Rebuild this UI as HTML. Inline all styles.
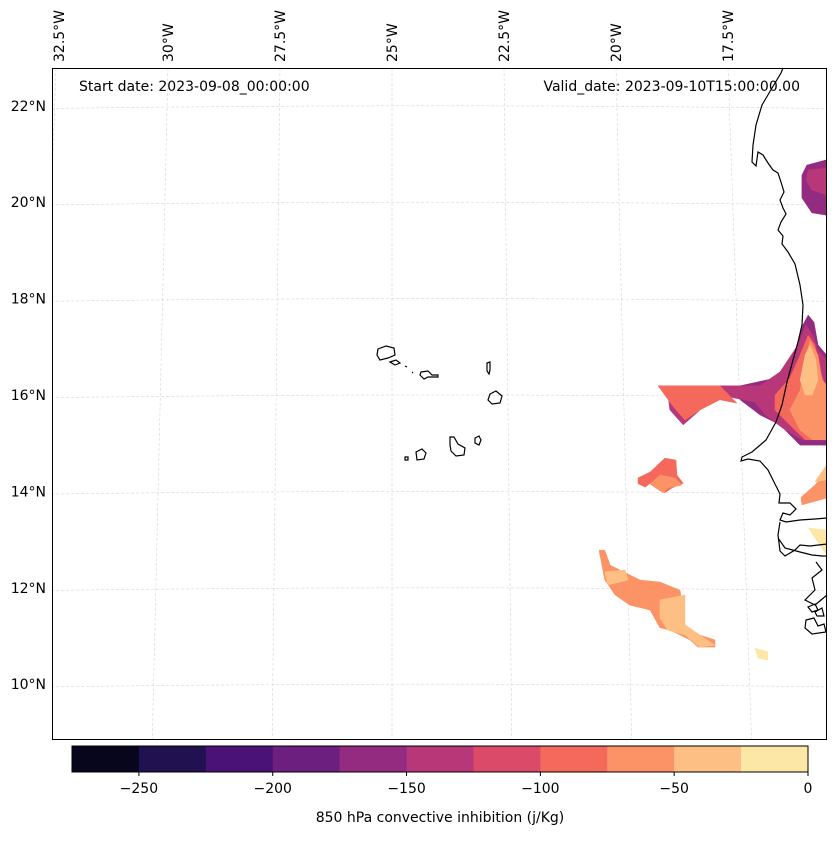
<!DOCTYPE html>
<html><head><meta charset="utf-8"><style>
body{margin:0;background:#fff;font-family:"Liberation Sans","DejaVu Sans",sans-serif}
svg text{font-family:"DejaVu Sans","Liberation Sans",sans-serif;font-size:14px;fill:#000}
</style></head><body>
<svg id="chart" width="837" height="836" xmlns="http://www.w3.org/2000/svg">
<rect width="837" height="836" fill="#fff"/>
<g id="grid"></g>
<g id="fills"></g>
<g id="coast" fill="none" stroke="#000" stroke-width="1.2">
<path d="M783,68 L781,73 L772,88 L762,105 L756,125 L753,145 L752,162 L756,166 L758,152 L763,155 L768,163 L773,170 L778,173 L781,182 L784,192 L780,200 L783,208 L786,214 L781,222 L778,230 L783,236 L782,244 L788,252 L795,264 L800,285 L803,305 L802,325 L798,342 L793,360 L787,382 L782,405 L776,422 L766,440 L752,452 L742,457 L741,461 L748,459 L760,461 L768,470 L774,482 L780,494 L779,503 L790,503 L796,509 L790,515 L783,513 L780,520 L786,522 L800,520 L815,519 L827,518"/>
<path d="M827,544 L810,546 L800,545 L795,550 L785,556 L780,551 L778,535 L780,522 M778,538 L785,548 L800,552 L812,555 L822,556 L827,556 M816,562 L822,570 L812,578 L815,590 L805,600 L815,605 L827,595 M808,607 L815,604 L818,610 L812,612 Z M815,612 L822,608 L824,616 L817,616 Z M806,620 L814,618 L818,626 L824,624 L826,632 L812,634 L805,628 Z"/>
<path d="M378,349 L386,346 L394,348 L395,355 L388,358 L380,360 L377,355 Z"/>
<path d="M390,362 L396,360 L400,363 L395,365 Z"/>
<path d="M405,366 L407,367 M412,372 L413,373"/>
<path d="M421,372 L428,371 L432,375 L438,375 L438,377 L428,377 L424,379 L420,375 Z"/>
<path d="M487,363 L490,362 L490,370 L489,374 L487,371 Z"/>
<path d="M490,394 L496,391 L502,396 L500,403 L492,404 L488,400 Z"/>
<path d="M475,438 L479,436 L481,440 L479,445 L475,443 Z"/>
<path d="M450,437 L454,437 L458,444 L465,448 L464,455 L456,456 L451,451 L450,445 Z"/>
<path d="M416,452 L422,449 L426,453 L424,459 L417,460 Z"/>
<path d="M405,457 L408,457 L408,460 L405,460 Z"/>
</g>
<rect x="52.5" y="68.5" width="774" height="671" fill="none" stroke="#000" stroke-width="1"/>
<g id="labels"></g>
<text x="79" y="91">Start date: 2023-09-08_00:00:00</text>
<text x="800" y="91" text-anchor="end">Valid_date: 2023-09-10T15:00:00.00</text>
<g id="cbar"></g>
<text x="440" y="822" text-anchor="middle">850 hPa convective inhibition (j/Kg)</text>
</svg>
<script>
const levels=[-275,-250,-225,-200,-175,-150,-125,-100,-75,-50,-25,0];
const colors=['#07061c','#221150','#4a1177','#6d1f80','#932b80','#b83779','#dc4a69','#f4695c','#fc9366','#febf84','#fde7a7'];
const cbarTicks=[-250,-200,-150,-100,-50,0];
const lonTicks=[-32.5,-30,-27.5,-25,-22.5,-20,-17.5];
const latTicks=[10,12,14,16,18,20,22];
// contour regions: level values and lon/lat vertex lists
const regionLevels=[-160,-130,-160,-130,-90,-90,-60,-40,-90,-60,-60,-40,-10,-60,-40,-40,-10];
const regionCoords=[
[[-15.85,20.56],[-15.74,20.77],[-15.3,20.88],[-15.3,19.73],[-15.63,19.78],[-15.85,20.09]],
[[-15.71,20.67],[-15.3,20.71],[-15.3,20.15],[-15.63,20.25],[-15.76,20.46]],
[[-17.23,16.19],[-16.45,16.35],[-16.0,16.83],[-15.83,17.45],[-15.71,17.66],[-15.58,17.51],[-15.49,17.04],[-15.3,16.83],[-15.3,14.96],[-15.89,14.96],[-16.34,15.38],[-16.79,15.59],[-17.23,15.9]],
[[-19.06,16.19],[-16.79,16.19],[-16.34,16.48],[-15.94,17.04],[-15.76,17.45],[-15.6,17.24],[-15.49,16.93],[-15.3,16.73],[-15.3,15.07],[-15.85,15.07],[-16.29,15.32],[-16.67,15.59],[-16.9,15.85],[-17.68,16.0],[-18.12,15.69],[-18.5,15.38],[-18.8,15.69],[-18.84,16.0]],
[[-19.06,16.19],[-17.68,16.19],[-17.3,15.83],[-17.68,15.9],[-18.12,15.69],[-18.46,15.48],[-18.75,15.79]],
[[-16.45,16.0],[-16.12,16.35],[-15.89,16.83],[-15.71,17.24],[-15.56,17.04],[-15.45,16.52],[-15.3,16.1],[-15.3,15.07],[-15.78,15.07],[-16.12,15.38],[-16.45,15.69]],
[[-16.12,15.69],[-15.89,16.1],[-15.78,16.73],[-15.67,17.14],[-15.49,16.83],[-15.4,16.31],[-15.3,16.21],[-15.3,15.07],[-15.62,15.07],[-15.89,15.27]],
[[-15.89,16.31],[-15.78,16.83],[-15.67,17.04],[-15.54,16.73],[-15.49,16.31],[-15.62,16.0],[-15.78,16.0]],
[[-19.51,14.28],[-19.24,14.4],[-18.91,14.69],[-18.66,14.65],[-18.64,14.34],[-18.5,14.17],[-18.75,14.07],[-18.91,13.97],[-19.13,14.24],[-19.35,14.09],[-19.51,14.16]],
[[-19.24,14.15],[-19.02,14.34],[-18.69,14.28],[-18.53,14.13],[-18.84,14.07],[-18.95,13.97]],
[[-15.87,13.88],[-15.56,14.13],[-15.3,14.44],[-15.3,13.86],[-15.85,13.72]],
[[-15.56,14.2],[-15.3,14.55],[-15.3,14.24]],
[[-15.71,13.24],[-15.3,13.2],[-15.3,12.68],[-15.45,12.89]],
[[-20.38,12.78],[-20.25,12.78],[-20.13,12.47],[-19.46,12.16],[-19.02,12.12],[-18.57,11.95],[-18.46,11.23],[-18.13,11.02],[-17.79,10.92],[-17.79,10.77],[-18.17,10.77],[-18.35,10.92],[-18.79,11.12],[-19.02,11.17],[-19.24,11.54],[-19.69,11.64],[-20.02,11.85],[-20.25,12.16]],
[[-20.25,12.33],[-19.8,12.37],[-19.73,12.16],[-20.18,12.06]],
[[-19.02,11.75],[-18.46,11.85],[-18.46,11.23],[-18.13,11.02],[-17.79,10.81],[-18.13,10.77],[-18.46,11.02],[-18.84,11.12],[-19.02,11.37]],
[[-16.9,10.75],[-16.61,10.67],[-16.61,10.5],[-16.83,10.54]]
];
const NS='http://www.w3.org/2000/svg';
function xs(lon){return 392+(lon+25)*44.8;}
function ys(lat){return 395-(lat-16)*48.2;}
function colorOf(v){for(let i=0;i<colors.length;i++){if(v>=levels[i]&&v<levels[i+1])return colors[i];}return colors[colors.length-1];}
function el(t,a,p){const e=document.createElementNS(NS,t);for(const k in a)e.setAttribute(k,a[k]);p.appendChild(e);return e;}
const clip=el('clipPath',{id:'mapclip'},document.getElementById('chart'));
el('rect',{x:52,y:68,width:775,height:671},clip);
const grid=document.getElementById('grid');
grid.setAttribute('clip-path','url(#mapclip)');
latTicks.forEach(lat=>{
  const pts=[];for(let lon=-33.5;lon<=-15;lon+=0.5){pts.push([xs(lon),ys(lat)-Math.cos((lon+24)/11)*9+9]);}
  const p=el('path',{d:'M'+pts.map(q=>q[0].toFixed(1)+','+q[1].toFixed(1)).join(' L'),fill:'none',stroke:'#d4d4d4','stroke-width':0.6,'stroke-dasharray':'3,2'},grid);
  
  
  const t=el('text',{x:46,y:ys(lat)+5,'text-anchor':'end'},document.getElementById('labels'));
  t.textContent=lat+'°N';
  
  
});
lonTicks.forEach(lon=>{
  const xt=xs(lon), xb=392+(lon+25)*44.8*1.07;
  const p=el('line',{x1:xt,y1:68,x2:xb,y2:739,stroke:'#d4d4d4','stroke-width':0.6,'stroke-dasharray':'3,2'},grid);
  
  
  const tx=xt+(lon===-32.5?3:0);
  const t=el('text',{x:0,y:0,transform:'translate('+(tx+5)+',62) rotate(-90)'},document.getElementById('labels'));
  t.textContent=Math.abs(lon)+'°W';
  
  
});
const fills=document.getElementById('fills');
fills.setAttribute('clip-path','url(#mapclip)');
function drawPoly(coords,color,name){
  const d='M'+coords.map(c=>xs(c[0]).toFixed(1)+','+ys(c[1]).toFixed(1)).join(' L')+' Z';
  const p=el('path',{d:d,fill:color,stroke:color,'stroke-width':0.5},fills);
  
  
}
regionCoords.forEach((c,i)=>drawPoly(c,colorOf(regionLevels[i]),'cin-region-'+i));
const cb=document.getElementById('cbar');
const cx=v=>72+(v-levels[0])/(levels[levels.length-1]-levels[0])*736;
colors.forEach((c,i)=>{
  const r=el('rect',{x:cx(levels[i]),y:746,width:cx(levels[i+1])-cx(levels[i])+0.5,height:26,fill:c},cb);
  
  
});
el('rect',{x:72,y:746,width:736,height:26,fill:'none',stroke:'#000','stroke-width':1},cb);
cbarTicks.forEach(v=>{
  el('line',{x1:cx(v),y1:772,x2:cx(v),y2:776,stroke:'#000'},cb);
  const t=el('text',{x:cx(v),y:793,'text-anchor':'middle'},cb);
  t.textContent=v<0?'\u2212'+Math.abs(v):String(v);
  
  
});
</script>
</body></html>
